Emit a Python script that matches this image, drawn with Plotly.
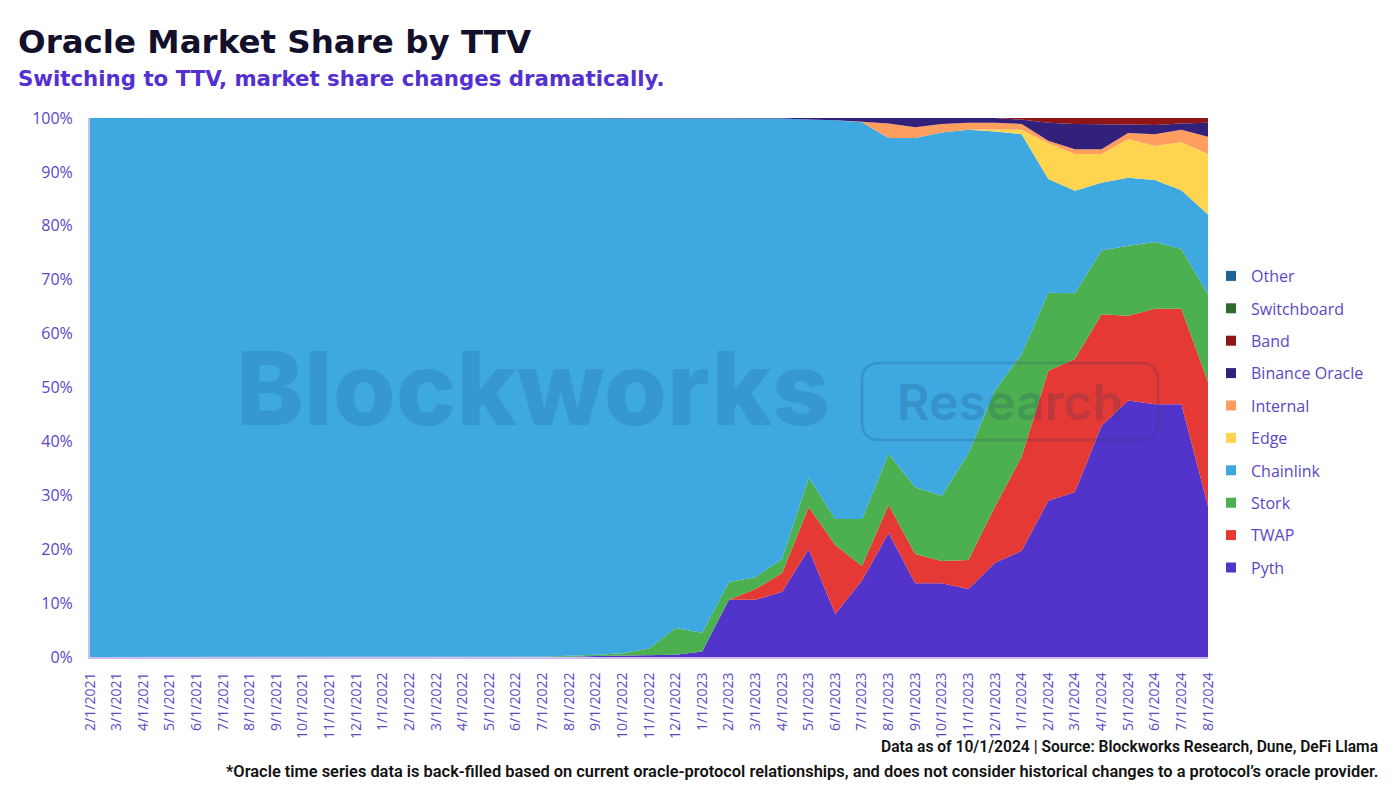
import plotly.graph_objects as go

dates = [f"{m}/1/{y}" for y, ms in [(2021, range(2, 13)), (2022, range(1, 13)), (2023, range(1, 13)), (2024, range(1, 9))] for m in ms]

pyth = [0]*18 + [0.05, 0.2, 0.3, 0.3, 0.4, 1.0, 10.6, 10.6, 12.1, 20.0, 8.0, 14.2, 23.0, 13.7, 13.7, 12.6,
                 17.5, 19.7, 29.0, 30.6, 42.9, 47.6, 46.9, 46.9, 28.0]
twap = [0]*25 + [2.0, 3.5, 7.8, 12.8, 2.7, 5.2, 5.4, 4.1, 5.4, 10.4, 17.5, 24.1, 24.7, 20.7, 15.7, 17.7, 17.7, 23.0]
stork = [0]*16 + [0.05, 0.1, 0.2, 0.2, 0.4, 1.3, 5.0, 3.5, 3.3, 2.2, 2.6, 5.5, 4.8, 8.7, 9.5, 12.4, 12.1, 19.8,
                  21.6, 19.0, 14.5, 12.2, 11.8, 13.0, 12.4, 11.1, 16.2]
chainlink = [100]*16 + [99.95, 99.9, 99.75, 99.6, 99.3, 98.4, 94.6, 95.5, 86.1, 85.2, 81.7, 66.4, 74.0, 73.6, 58.6,
                        64.8, 67.4, 60.0, 48.0, 40.8, 21.1, 19.0, 12.6, 12.6, 11.5, 10.9, 14.9]
edge = [0]*34 + [0.4, 0.8, 6.6, 6.8, 5.3, 7.2, 6.3, 8.9, 11.2]
internal = [0]*29 + [0.1, 2.7, 2.0, 1.6, 1.3, 1.2, 1.1, 0.5, 0.9, 0.9, 1.1, 2.2, 2.3, 3.2]
binance = [0]*26 + [0.1, 0.3, 0.4, 0.7, 1.0, 1.7, 1.1, 0.9, 0.9, 0.8, 3.3, 4.7, 4.7, 1.6, 1.7, 1.2, 2.6]
band = [0]*35 + [0.3, 0.9, 1.1, 1.1, 1.2, 1.3, 1.0, 0.9]
switchboard = [0]*43
other = [0]*43

y_ticks = list(range(0, 101, 10))
y_tick_text = [f"{v}%" for v in y_ticks]

series = [
    ("Pyth", pyth, "#5334CB"),
    ("TWAP", twap, "#E53935"),
    ("Stork", stork, "#4CAF50"),
    ("Chainlink", chainlink, "#3EA8E0"),
    ("Edge", edge, "#FFD54F"),
    ("Internal", internal, "#FF9E5E"),
    ("Binance Oracle", binance, "#33207A"),
    ("Band", band, "#8E1616"),
    ("Switchboard", switchboard, "#2E6B30"),
    ("Other", other, "#1F6494"),
]

fig = go.Figure()
# legend entries first (top of legend = last stacked series)
for name, vals, col in reversed(series):
    fig.add_trace(go.Scatter(
        x=[None], y=[None], name=name, mode="markers", legendgroup=name, showlegend=True,
        marker=dict(symbol="square", size=10, color=col),
    ))
for name, vals, col in series:
    fig.add_trace(go.Scatter(
        x=dates, y=vals, name=name, mode="lines", stackgroup="one", groupnorm="percent",
        line=dict(width=0, color=col), fillcolor=col, legendgroup=name, showlegend=False,
        hoverinfo="x+y+name",
    ))

purple = "#5A48C4"
X0 = 90
W = 1118
H = 539
B = 657


def px(x):
    return (x - X0) / W


def py(y):
    return (B - y) / H


fig.update_layout(
    width=1400, height=788,
    margin=dict(l=90, r=192, t=118, b=131),
    paper_bgcolor="white", plot_bgcolor="white",
    showlegend=True,
    legend=dict(traceorder="grouped", x=px(1211), xanchor="left", y=py(259), yanchor="top",
                font=dict(family="Open Sans", size=16, color=purple),
                tracegroupgap=8.6, itemwidth=30, bgcolor="rgba(0,0,0,0)"),
    xaxis=dict(type="category", range=[0, len(dates) - 1], tickangle=-90, showgrid=False,
               tickfont=dict(family="Open Sans", size=14, color=purple),
               showline=True, linecolor="#CDBDF2", linewidth=2, ticks="", ticklabelstandoff=8),
    yaxis=dict(range=[0, 100], tickvals=y_ticks, ticktext=y_tick_text, showgrid=False,
               tickfont=dict(family="Open Sans", size=16, color=purple),
               showline=True, linecolor="#CDBDF2", linewidth=2, zeroline=False, ticks="",
               ticklabelstandoff=12),
    annotations=[
        dict(text="<b>Oracle Market Share by TTV</b>", xref="paper", yref="paper", x=px(16), y=py(42),
             xanchor="left", yanchor="middle", showarrow=False,
             font=dict(family="DejaVu Sans", size=32.5, color="#12102A")),
        dict(text="<b>Switching to TTV, market share changes dramatically.</b>", xref="paper", yref="paper",
             x=px(16), y=py(78), xanchor="left", yanchor="middle", showarrow=False,
             font=dict(family="DejaVu Sans", size=21.3, color="#5530D0")),
        dict(text="Blockworks", xref="paper", yref="paper", x=px(533), y=py(388),
             xanchor="center", yanchor="middle", showarrow=False,
             font=dict(family="Inter", size=102, color="rgba(30,90,150,0.2)", weight=800)),
        dict(text="Research", xref="paper", yref="paper", x=px(1010), y=py(402),
             xanchor="center", yanchor="middle", showarrow=False,
             font=dict(family="Inter", size=50, color="rgba(30,60,100,0.2)", weight=600)),
        dict(text="Data as of 10/1/2024 | Source: Blockworks Research, Dune, DeFi Llama", xref="paper",
             yref="paper", x=px(1380), y=py(747), xanchor="right", yanchor="middle",
             showarrow=False, font=dict(family="Roboto", size=15.6, color="#111111", weight=600)),
        dict(text="*Oracle time series data is back-filled based on current oracle-protocol relationships, and does not consider historical changes to a protocol’s oracle provider.",
             xref="paper", yref="paper", x=px(1380), y=py(771), xanchor="right",
             yanchor="middle", showarrow=False,
             font=dict(family="Roboto", size=16.4, color="#111111", weight=600)),
    ],
    shapes=[
        dict(type="path", xref="paper", yref="paper",
             path=" ".join([
                 f"M {px(880)} {py(363)}",
                 f"L {px(1140)} {py(363)}",
                 f"Q {px(1158)} {py(363)} {px(1158)} {py(381)}",
                 f"L {px(1158)} {py(422)}",
                 f"Q {px(1158)} {py(440)} {px(1140)} {py(440)}",
                 f"L {px(880)} {py(440)}",
                 f"Q {px(862)} {py(440)} {px(862)} {py(422)}",
                 f"L {px(862)} {py(381)}",
                 f"Q {px(862)} {py(363)} {px(880)} {py(363)} Z",
             ]),
             line=dict(color="rgba(30,60,100,0.2)", width=2.5), layer="above"),
    ],
)

fig.write_html("out.html")
